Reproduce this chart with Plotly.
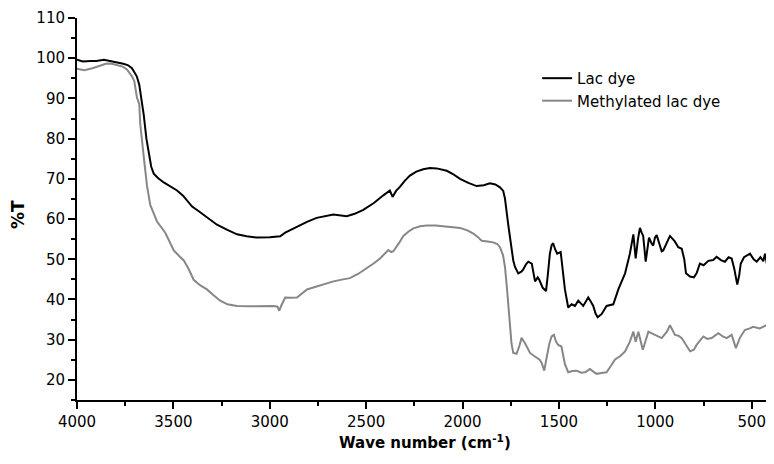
import plotly.graph_objects as go

# Lac dye (black) - wavenumber (cm-1) and %T
lac_wn = [4000, 3970, 3930, 3900, 3860, 3830, 3798, 3760, 3737, 3715, 3703, 3690, 3677, 3665,
          3654, 3640, 3628, 3615, 3602, 3580, 3550, 3500, 3481, 3450, 3429, 3403, 3370, 3343,
          3310, 3274, 3220, 3170, 3120, 3066, 3000, 2946, 2920, 2870, 2843, 2807, 2757, 2700,
          2670, 2601, 2560, 2515, 2460, 2411, 2377, 2363, 2345, 2325, 2300, 2273, 2240, 2204,
          2170, 2134, 2100, 2082, 2050, 2013, 1970, 1927, 1890, 1858, 1830, 1806, 1789, 1780,
          1763, 1754, 1737, 1728, 1711, 1695, 1685, 1670, 1659, 1641, 1630, 1624, 1610, 1602,
          1584, 1567, 1558, 1547, 1538, 1530, 1520, 1509, 1491, 1480, 1469, 1452, 1434, 1417,
          1400, 1374, 1360, 1348, 1335, 1322, 1310, 1299, 1278, 1253, 1218, 1205, 1192, 1157,
          1132, 1114, 1108, 1102, 1090, 1080, 1070, 1063, 1050, 1040, 1033, 1020, 1011, 1002,
          993, 980, 967, 959, 940, 924, 900, 881, 863, 850, 841, 820, 800, 786, 769, 750, 725,
          700, 682, 660, 639, 620, 604, 590, 575, 565, 557, 540, 509, 490, 474, 455, 440, 431,
          420, 405, 400]
lac_t = [99.6, 99.2, 99.3, 99.3, 99.6, 99.4, 99.0, 98.6, 98.3, 97.5, 96.6, 95.5, 93.4, 90.0,
         86.0, 80.0, 76.4, 73.0, 71.3, 70.2, 69.1, 67.8, 67.1, 65.8, 64.7, 63.1, 62.0, 61.1,
         59.8, 58.6, 57.3, 56.2, 55.7, 55.4, 55.5, 55.7, 56.6, 57.8, 58.3, 59.3, 60.3, 60.8,
         61.1, 60.7, 61.3, 62.3, 64.0, 65.9, 67.1, 65.5, 67.0, 68.0, 69.5, 70.8, 71.8, 72.4,
         72.7, 72.6, 72.3, 72.0, 71.2, 70.0, 69.0, 68.2, 68.4, 68.9, 68.6, 67.9, 67.0, 65.1,
         58.6, 55.0, 49.7, 48.1, 46.5, 46.9, 47.5, 48.8, 49.4, 48.9, 46.5, 44.5, 45.5, 44.9,
         42.9, 42.1, 46.0, 51.4, 53.5, 54.0, 52.5, 51.4, 51.8, 47.0, 42.5, 38.0, 38.8, 38.4,
         39.7, 38.4, 39.6, 40.5, 39.5, 38.4, 36.5, 35.6, 36.4, 38.4, 38.8, 40.5, 42.5, 46.5,
         51.4, 56.2, 53.0, 50.2, 55.0, 57.8, 56.5, 55.8, 49.4, 53.0, 55.4, 54.0, 53.4, 55.4,
         56.0, 54.0, 52.0, 52.2, 54.0, 55.8, 54.5, 53.0, 52.6, 50.0, 46.5, 45.7, 45.5, 46.5,
         48.9, 48.5, 49.6, 49.8, 50.6, 49.8, 49.4, 50.5, 50.2, 47.5, 43.7, 46.0, 48.9, 50.5,
         51.4, 50.0, 49.4, 50.5, 49.5, 51.4, 48.5, 47.3, 47.8]

# Methylated lac dye (grey)
met_wn = [4000, 3962, 3920, 3876, 3850, 3824, 3790, 3763, 3741, 3715, 3703, 3689, 3677, 3672,
          3654, 3637, 3620, 3600, 3585, 3542, 3520, 3498, 3470, 3446, 3420, 3395, 3360, 3326,
          3290, 3257, 3220, 3170, 3100, 3049, 2980, 2960, 2951, 2940, 2920, 2890, 2859, 2807,
          2757, 2710, 2670, 2620, 2584, 2540, 2497, 2460, 2428, 2400, 2385, 2370, 2359, 2330,
          2307, 2280, 2255, 2220, 2186, 2140, 2100, 2050, 2013, 1975, 1944, 1920, 1901, 1870,
          1841, 1820, 1806, 1790, 1780, 1770, 1763, 1754, 1746, 1737, 1720, 1705, 1694, 1676,
          1650, 1630, 1616, 1600, 1590, 1576, 1564, 1550, 1538, 1526, 1515, 1504, 1487, 1478,
          1469, 1452, 1430, 1408, 1385, 1365, 1339, 1320, 1304, 1280, 1253, 1230, 1209, 1180,
          1157, 1132, 1114, 1102, 1088, 1065, 1050, 1036, 1015, 1002, 967, 940, 924, 898, 880,
          863, 838, 820, 800, 786, 751, 730, 708, 673, 650, 630, 604, 582, 562, 536, 510, 493,
          458, 440, 423, 405, 400]
met_t = [97.4, 97.0, 97.5, 98.3, 98.6, 98.7, 98.3, 97.9, 97.2, 95.5, 94.3, 90.2, 88.6, 83.7,
         75.6, 68.3, 63.5, 61.0, 59.4, 56.6, 54.5, 52.2, 50.8, 49.7, 47.5, 44.9, 43.5, 42.5,
         41.0, 39.7, 38.8, 38.4, 38.3, 38.3, 38.4, 38.2, 37.2, 38.5, 40.5, 40.4, 40.5, 42.5,
         43.3, 44.0, 44.5, 45.0, 45.3, 46.4, 47.7, 49.0, 50.2, 51.5, 52.3, 51.8, 52.0, 54.0,
         55.8, 56.9, 57.7, 58.2, 58.4, 58.4, 58.2, 58.1, 57.8, 57.2, 56.4, 55.5, 54.6, 54.4,
         54.2, 53.8, 53.0, 51.0, 48.1, 43.0, 39.2, 33.0, 29.0, 26.7, 26.5, 28.5, 30.5, 29.1,
         26.7, 26.0, 25.5, 25.0, 24.3, 22.3, 25.5, 29.0, 30.8, 31.2, 29.5, 28.7, 28.3, 26.0,
         23.9, 21.9, 22.2, 22.3, 21.8, 21.9, 22.7, 22.0, 21.5, 21.7, 21.9, 23.5, 25.1, 26.0,
         27.1, 29.5, 32.0, 29.5, 32.0, 27.5, 30.0, 32.0, 31.5, 31.2, 30.4, 32.0, 33.6, 31.2, 31.0,
         30.4, 28.3, 27.1, 27.5, 28.7, 30.8, 30.2, 30.4, 31.6, 30.8, 30.4, 31.2, 27.9, 30.4,
         32.4, 32.8, 33.2, 32.8, 33.2, 33.6, 32.3, 32.0]

x_ticks = [4000, 3500, 3000, 2500, 2000, 1500, 1000, 500]
y_ticks = [20, 30, 40, 50, 60, 70, 80, 90, 100, 110]

FONT = "DejaVu Sans"

fig = go.Figure()
fig.add_trace(go.Scatter(x=lac_wn, y=lac_t, mode="lines", name="Lac dye",
                         line=dict(color="#000000", width=2)))
fig.add_trace(go.Scatter(x=met_wn, y=met_t, mode="lines", name="Methylated lac dye",
                         line=dict(color="#878787", width=2)))


def _axis(rng, vals, minor_step):
    return dict(range=rng, tickvals=vals, automargin=False, ticklabeloverflow="allow",
                showline=True, linecolor="black", linewidth=2, showgrid=False, zeroline=False,
                ticks="outside", ticklen=7, tickwidth=2, tickcolor="black",
                tickfont=dict(family=FONT, size=15, color="black"),
                minor=dict(ticks="outside", ticklen=4, tickwidth=2, tickcolor="black",
                           dtick=minor_step, tick0=0))


# the page body adds an 8px margin, so the figure is 8px smaller than the window
fig.update_layout(
    width=766, height=456,
    margin=dict(l=69, r=3, t=10, b=64),
    paper_bgcolor="white", plot_bgcolor="white",
    font=dict(family=FONT, color="black"),
    xaxis=_axis([4000, 400], x_ticks, 250),
    yaxis=_axis([15, 110], y_ticks, 5),
    legend=dict(x=0.663, y=0.885, xanchor="left", yanchor="top", bgcolor="rgba(0,0,0,0)",
                font=dict(size=15, family=FONT)),
    annotations=[
        dict(text="<b>Wave number (cm<sup>-1</sup>)</b>", xref="paper", yref="paper",
             x=0.501, y=-0.110, xanchor="center", yanchor="middle", showarrow=False,
             font=dict(size=15, family=FONT)),
        dict(text="<b>%T</b>", xref="paper", yref="paper", textangle=-90,
             x=-0.085, y=0.484, xanchor="center", yanchor="middle", showarrow=False,
             font=dict(size=17, family=FONT)),
    ],
)

fig.write_html("out.html")
